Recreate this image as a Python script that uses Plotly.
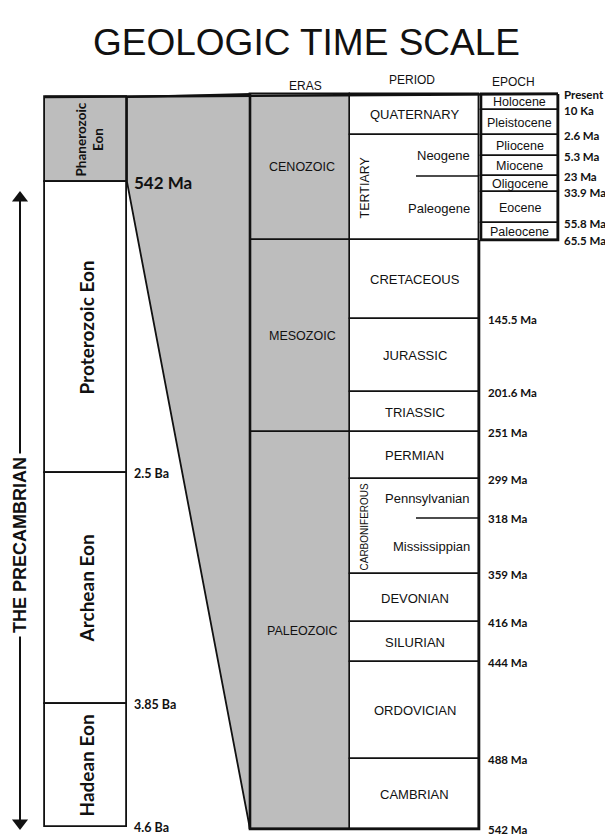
import plotly.graph_objects as go

# ---- chart content, top (youngest) to bottom (oldest) ----
eon_names = ["Phanerozoic<br>Eon", "Proterozoic Eon", "Archean Eon", "Hadean Eon"]
eon_ends = ["542 Ma", "2.5 Ba", "3.85 Ba", "4.6 Ba"]
era_names = ["CENOZOIC", "MESOZOIC", "PALEOZOIC"]
period_names = ["QUATERNARY", "TERTIARY", "CRETACEOUS", "JURASSIC", "TRIASSIC", "PERMIAN",
                "CARBONIFEROUS", "DEVONIAN", "SILURIAN", "ORDOVICIAN", "CAMBRIAN"]
period_bounds = ["Present", "2.6 Ma", "65.5 Ma", "145.5 Ma", "201.6 Ma", "251 Ma", "299 Ma",
                 "359 Ma", "416 Ma", "444 Ma", "488 Ma", "542 Ma"]
subperiod_names = [("Neogene", "Paleogene"), ("Pennsylvanian", "Mississippian")]
subperiod_parent = ["TERTIARY", "CARBONIFEROUS"]
subperiod_split = ["23 Ma", "318 Ma"]
epoch_names = ["Holocene", "Pleistocene", "Pliocene", "Miocene", "Oligocene", "Eocene", "Paleocene"]
epoch_bounds = ["Present", "10 Ka", "2.6 Ma", "5.3 Ma", "23 Ma", "33.9 Ma", "55.8 Ma", "65.5 Ma"]
headers = ["ERAS", "PERIOD", "EPOCH"]

# ---- diagram layout (page units, y grows downward) ----
W, H = 613, 836
PAGE_MARGIN = 8  # default body margin of the html page
EON_EDGES = [97, 182, 473, 704, 827]
ERA_EDGES = [94, 240, 432, 829]
PERIOD_EDGES = [94, 135, 240, 319, 392, 432, 479, 574, 622, 662, 759, 829]
EPOCH_EDGES = [94, 110, 135, 156, 176, 192, 223, 240]
SUB_EDGES = [176, 518]
EON_X = (45, 127)
ERA_X = (250, 350)
PER_X = (350, 479)
EPO_X = (481, 558)
SUB_X0 = 416
INK = "#111111"
GREY = "#bdbdbd"
SANS = "Liberation Sans, Arial, sans-serif"
BOLD = "Lato, Open Sans, sans-serif"


def mid(a, b):
    return (a + b) / 2


def column(xr, edges, colors, lw=1.4):
    tops = edges[:-1]
    heights = [b - t for t, b in zip(edges[:-1], edges[1:])]
    return go.Bar(
        x=[mid(*xr)] * len(heights),
        y=heights,
        base=tops,
        width=xr[1] - xr[0],
        marker=dict(color=colors, line=dict(color=INK, width=lw)),
        hoverinfo="skip",
        showlegend=False,
    )


def polyline(points, width):
    xs, ys = [], []
    for seg in points:
        for px, py in seg:
            xs.append(px)
            ys.append(py)
        xs.append(None)
        ys.append(None)
    return go.Scatter(x=xs, y=ys, mode="lines", line=dict(color=INK, width=width),
                      hoverinfo="skip", showlegend=False)


fig = go.Figure()

# grey wedge linking the Phanerozoic box to the expanded columns
fig.add_trace(go.Scatter(
    x=[EON_X[1], ERA_X[0], ERA_X[0], EON_X[1], EON_X[1]],
    y=[EON_EDGES[0], ERA_EDGES[0], ERA_EDGES[-1], EON_EDGES[1], EON_EDGES[0]],
    fill="toself", fillcolor=GREY, mode="lines", line=dict(color=INK, width=1.8),
    hoverinfo="skip", showlegend=False,
))

eon_colors = [GREY] + ["white"] * (len(eon_names) - 1)
fig.add_trace(column(EON_X, EON_EDGES, eon_colors, lw=1.8))
fig.add_trace(column(ERA_X, ERA_EDGES, [GREY] * len(era_names)))
fig.add_trace(column(PER_X, PERIOD_EDGES, ["white"] * len(period_names)))
fig.add_trace(column(EPO_X, EPOCH_EDGES, ["white"] * len(epoch_names)))

# sub-period dividers
fig.add_trace(polyline([[(SUB_X0, y), (PER_X[1], y)] for y in SUB_EDGES], 1.3))

# heavier outline strokes
fig.add_trace(polyline([
    [(EON_X[0], EON_EDGES[0]), (EPO_X[1], EPOCH_EDGES[0])],
    [(ERA_X[0], ERA_EDGES[0]), (ERA_X[0], ERA_EDGES[-1]), (PER_X[1], ERA_EDGES[-1]),
     (PER_X[1], EPOCH_EDGES[-1])],
    [(EPO_X[0], EPOCH_EDGES[0]), (EPO_X[0], EPOCH_EDGES[-1]), (EPO_X[1], EPOCH_EDGES[-1]),
     (EPO_X[1], EPOCH_EDGES[0])],
], 2.6))

# Precambrian double arrow
ARROW_X = 20
fig.add_trace(go.Scatter(
    x=[ARROW_X, ARROW_X], y=[EON_EDGES[1] + 16, EON_EDGES[-1] - 4],
    mode="lines+markers", line=dict(color=INK, width=2),
    marker=dict(symbol=["triangle-up", "triangle-down"], size=14, color=INK),
    hoverinfo="skip", showlegend=False,
))

ann = []


def label(x, y, text, size, font=SANS, angle=0, anchor="center", color=INK, bg=None):
    d = dict(x=x, y=y, text=text, showarrow=False, textangle=angle, xanchor=anchor,
             yanchor="middle", font=dict(family=font, size=size, color=color))
    if bg:
        d.update(bgcolor=bg, borderpad=3)
    ann.append(d)


label(W / 2, 42, "GEOLOGIC TIME SCALE", 37, font="Liberation Sans Narrow, Arial Narrow, Liberation Sans, sans-serif")
for name, hx, hy in zip(headers, [mid(*ERA_X) + 5, mid(*PER_X) - 3, mid(*EPO_X) - 6], [86, 80, 82]):
    label(hx, hy, name, 12)

# eon boxes
for i, name in enumerate(eon_names):
    size = 13.5 if i == 0 else 19
    label(mid(*EON_X) + (3 if i == 0 else 0), mid(EON_EDGES[i], EON_EDGES[i + 1]),
          f"<b>{name}</b>", size, font=BOLD, angle=-90)
for i, txt in enumerate(eon_ends):
    size = 17 if i == 0 else 12.5
    label(EON_X[1] + 5, EON_EDGES[i + 1], f"<b>{txt}</b>", size, font=BOLD, anchor="left")
label(ARROW_X, 545, "<b>THE PRECAMBRIAN</b>", 18, font="Liberation Sans, Arial, sans-serif",
      angle=-90, bg="white")

# eras
for i, name in enumerate(era_names):
    label(mid(*ERA_X) + 2, mid(ERA_EDGES[i], ERA_EDGES[i + 1]), name, 12.5)

# periods
for i, name in enumerate(period_names):
    y0, y1 = PERIOD_EDGES[i], PERIOD_EDGES[i + 1]
    if name in subperiod_parent:
        k = subperiod_parent.index(name)
        split = SUB_EDGES[k]
        vert_size = 12.5 if name == "TERTIARY" else 10
        label(PER_X[0] + 14, mid(y0, y1), name, vert_size, angle=-90)
        upper, lower = subperiod_names[k]
        label(PER_X[1] - 7, mid(y0, split), upper, 13, anchor="right")
        label(PER_X[1] - 7, mid(split, y1), lower, 13, anchor="right")
    else:
        label(mid(*PER_X), mid(y0, y1), name, 13)

# epochs
for i, name in enumerate(epoch_names):
    label(mid(*EPO_X), mid(EPOCH_EDGES[i], EPOCH_EDGES[i + 1]), name, 12.5)

# boundary ages
for txt, y in zip(epoch_bounds, EPOCH_EDGES):
    label(EPO_X[1] + 4, y, f"<b>{txt}</b>", 11.5, font=BOLD, anchor="left")
for txt, y in zip(period_bounds, PERIOD_EDGES):
    if y > ERA_EDGES[1]:
        label(PER_X[1] + 7, y, f"<b>{txt}</b>", 11.5, font=BOLD, anchor="left")
for txt, y in zip(subperiod_split, SUB_EDGES):
    if y > ERA_EDGES[1]:
        label(PER_X[1] + 7, y, f"<b>{txt}</b>", 11.5, font=BOLD, anchor="left")

# the page adds a body margin, so the figure is shrunk by it and the axes keep page units
fig.update_layout(
    width=W - PAGE_MARGIN, height=H - PAGE_MARGIN,
    margin=dict(l=0, r=0, t=0, b=0),
    paper_bgcolor="white", plot_bgcolor="white",
    barmode="overlay", bargap=0,
    xaxis=dict(range=[PAGE_MARGIN, W], visible=False, fixedrange=True),
    yaxis=dict(range=[H, PAGE_MARGIN], visible=False, fixedrange=True),
    annotations=ann,
    showlegend=False,
)

fig.write_html("out.html")
